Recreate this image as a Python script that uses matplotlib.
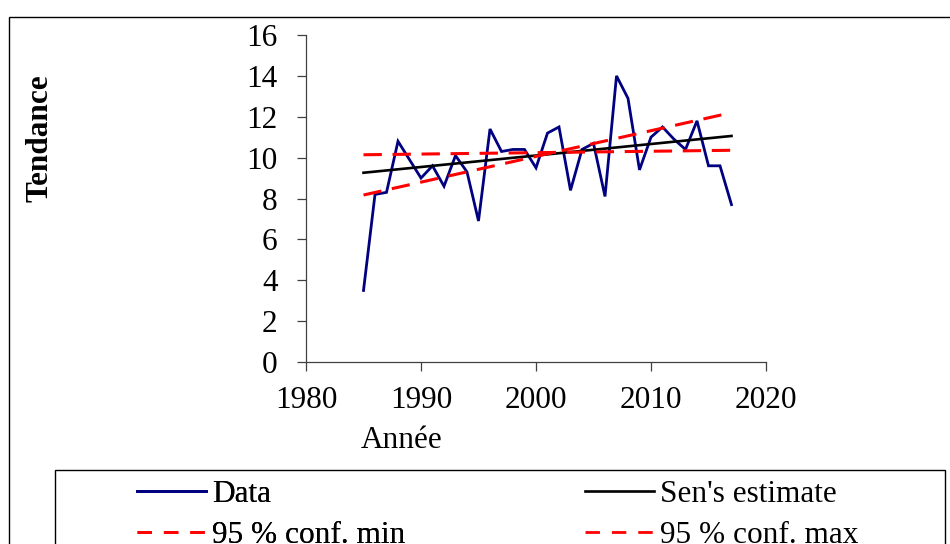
import numpy as np
import matplotlib.pyplot as plt
from matplotlib.lines import Line2D
from matplotlib.patches import Rectangle

plt.rcParams['font.family'] = ['Liberation Serif', 'DejaVu Serif']

# Annual series and Sen's slope trend lines
years = np.arange(1985, 2018)
values = [3.5, 8.2, 8.3, 10.8, 9.9, 9.0, 9.6, 8.6, 10.1, 9.3, 6.9,
          11.4, 10.3, 10.4, 10.4, 9.5, 11.2, 11.5, 8.4, 10.4, 10.7,
          8.1, 14.0, 12.9, 9.4, 11.0, 11.5, 10.9, 10.4, 11.8, 9.6,
          9.6, 7.7]
trend_years = [1985, 2017]
sen_est = [9.26, 11.06]
conf_min = [10.14, 10.36]
conf_max = [8.17, 12.20]

FS = 22.5
W, H = 950, 544
fig = plt.figure(figsize=(W / 100, H / 100), dpi=100)
ax = fig.add_axes([306 / W, 1 - 362 / H, 460 / W, 327 / H])

ax.plot(years, values, color='#000080', lw=2.0, solid_joinstyle='miter')
ax.plot(trend_years, sen_est, color='black', lw=1.9)
ax.plot(trend_years, conf_min, color='#ff0000', lw=2.2, dashes=(6, 3.5))
ax.plot(trend_years, conf_max, color='#ff0000', lw=2.2, dashes=(6, 3.5))

ax.set_xlim(1980, 2020)
ax.set_ylim(0, 16)
ax.set_xticks([1980, 1990, 2000, 2010, 2020])
ax.set_yticks(np.arange(0, 17, 2))
for s in ['top', 'right']:
    ax.spines[s].set_visible(False)
for s in ['left', 'bottom']:
    ax.spines[s].set_color('#404040')
    ax.spines[s].set_linewidth(0.9)
ax.tick_params(direction='out', length=6.5, width=0.9, color='#404040',
               labelsize=FS)
ax.tick_params(axis='y', pad=14)
ax.tick_params(axis='x', pad=11)

fig.text(40 / W, 1 - 138 / H, 'Tendance', rotation=90, fontsize=FS,
         fontweight='bold', ha='center', va='center')
fig.text(402 / W, 1 - 441 / H, 'Année', fontsize=FS, ha='center', va='center')

# outer chart frame and legend box (both run past the figure edge)
fig.add_artist(Rectangle((9 / W, -0.1), 1.2, 1 - 17 / H + 0.1,
                         transform=fig.transFigure, fill=False,
                         edgecolor='black', lw=1.0))
fig.add_artist(Rectangle((55 / W, -0.1), 890 / W, 1 - 470 / H + 0.1,
                         transform=fig.transFigure, fill=False,
                         edgecolor='black', lw=1.0))

leg_kw = dict(frameon=False, fontsize=FS, handlelength=2.2,
              handletextpad=0.2, labelspacing=0.37, borderpad=0,
              borderaxespad=0, loc='upper left')
col1 = [Line2D([], [], color='#000080', lw=2.0),
        Line2D([], [], color='#ff0000', lw=2.0, dashes=(5.2, 4.3))]
col2 = [Line2D([], [], color='black', lw=1.9),
        Line2D([], [], color='#ff0000', lw=2.0, dashes=(5.2, 4.3))]
l1 = fig.legend(col1, ['Data', '95 % conf. min'],
                bbox_to_anchor=(137 / W, 1 - 480 / H), **leg_kw)
fig.add_artist(l1)
fig.legend(col2, ["Sen's estimate", '95 % conf. max'],
           bbox_to_anchor=(585 / W, 1 - 480 / H), **leg_kw)

fig.savefig('out.png', dpi=100)
